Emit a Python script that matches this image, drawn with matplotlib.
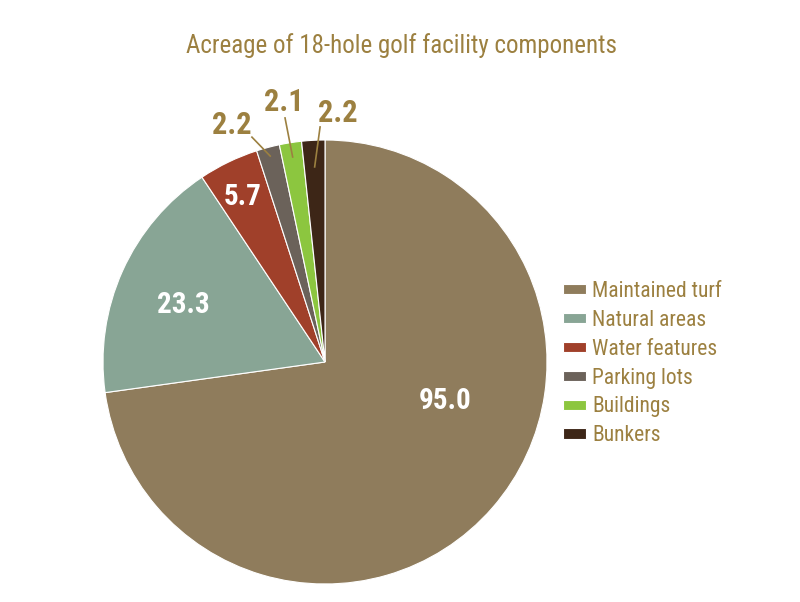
import matplotlib
matplotlib.use('Agg')
import matplotlib.pyplot as plt
from matplotlib import font_manager
import numpy as np

labels = ['Maintained turf', 'Natural areas', 'Water features', 'Parking lots', 'Buildings', 'Bunkers']
values = [95.0, 23.3, 5.7, 2.2, 2.1, 2.2]
value_text = ['95.0', '23.3', '5.7', '2.2', '2.1', '2.2']
colors = ['#8f7c5c', '#88a595', '#a0402a', '#6b625a', '#8cc63f', '#3d2617']

gold = '#9c8040'

# pick a narrow font if one is around
fonts = font_manager.fontManager.ttflist
names = {f.name for f in fonts}
narrow = [f for f in fonts if str(f.stretch) in ('condensed', 'semi-condensed', '600', '700', '500')
          or 'Condensed' in f.fname or 'Narrow' in f.fname]
family = 'DejaVu Sans'
stretch = 'normal'
for cand in ['Liberation Sans Narrow', 'Roboto Condensed', 'Open Sans Condensed']:
    if cand in names:
        family = cand
        break
else:
    cond = [f for f in narrow if f.name in ('Roboto', 'Open Sans', 'DejaVu Sans', 'Liberation Sans')]
    if cond:
        family = cond[0].name
        stretch = 'condensed'
plt.rcParams['font.family'] = [family, 'DejaVu Sans']
plt.rcParams['font.stretch'] = stretch

fig = plt.figure(figsize=(8, 6.02), dpi=100)
# pie centre ~ (325, 362) px, radius ~222 px
cx, cy, r = 325, 362, 222
ax = fig.add_axes([(cx - r) / 800, (602 - cy - r) / 602, 2 * r / 800, 2 * r / 602])
wedges, _ = ax.pie(values, colors=colors, startangle=90, counterclock=False,
                   wedgeprops=dict(edgecolor='white', linewidth=0.8))
ax.set_xlim(-1, 1)
ax.set_ylim(-1, 1)
ax.set_aspect('auto')

def polar(rad, deg):
    return rad * np.cos(np.deg2rad(deg)), rad * np.sin(np.deg2rad(deg))

# label placement (radius, angle in degrees); small slices get leader lines
label_pos = [(0.568, -18), (0.69, 158), (0.83, 116.7), (1.147, 111.4), (1.186, 99), (1.125, 87)]
leader_end = [None, None, None, (1.065, 108), (1.114, 99.3), (1.059, 91.2)]
leader_in = [None, None, None, 0.96, 0.935, 0.88]
for w, txt, lp, le, li in zip(wedges, value_text, label_pos, leader_end, leader_in):
    mid = (w.theta1 + w.theta2) / 2
    tx, ty = polar(*lp)
    if le is not None:
        sx, sy = polar(li, mid)
        ex, ey = polar(*le)
        ax.plot([sx, ex], [sy, ey], color=gold, lw=1.2, clip_on=False)
        ax.text(tx, ty, txt, color=gold, fontsize=22, fontweight='bold',
                ha='center', va='center')
    else:
        ax.text(tx, ty, txt, color='white', fontsize=21, fontweight='bold',
                ha='center', va='center')

fig.text(401 / 800, 1 - 46 / 602, 'Acreage of 18-hole golf facility components',
         color=gold, fontsize=18, ha='center', va='center')

leg = fig.legend(wedges, labels, loc='upper left', bbox_to_anchor=(554 / 800, 1 - 272 / 602),
                 frameon=False, fontsize=15.5, handlelength=1.07, handleheight=0.37,
                 handletextpad=0.3, labelspacing=0.37, borderaxespad=0)
for t in leg.get_texts():
    t.set_color(gold)

plt.savefig('out.png', dpi=100)
